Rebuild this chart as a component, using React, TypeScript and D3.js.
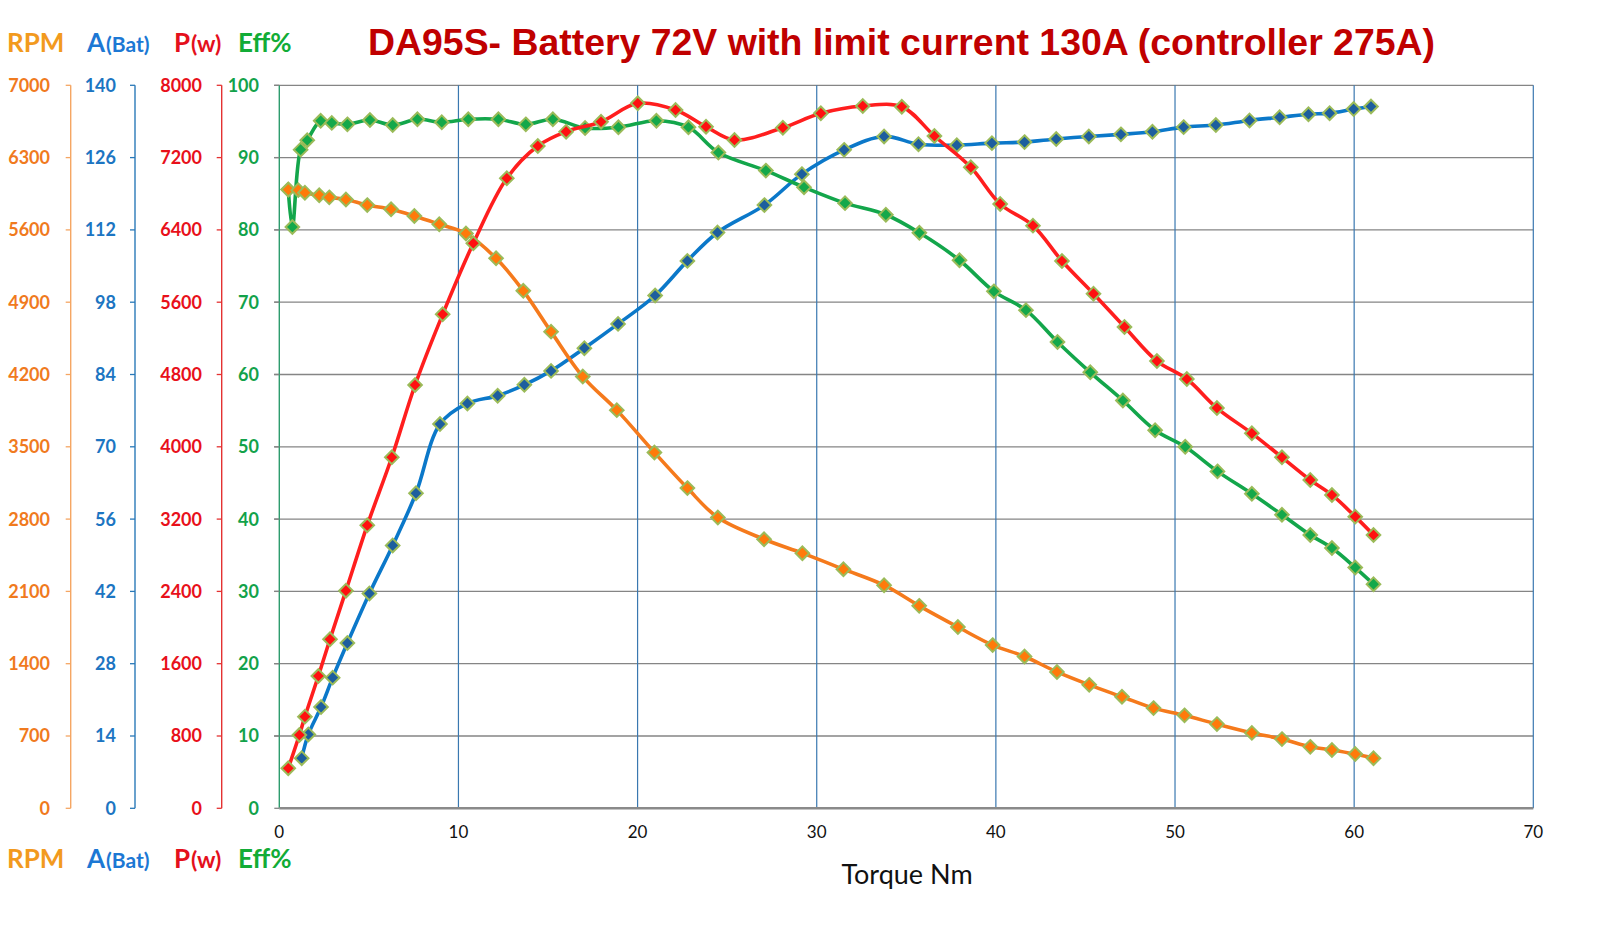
import React from "react";
import * as d3 from "d3";

// Torque (Nm) / RPM
const rpmTorque = [0.5, 1.06, 1.43, 2.23, 2.79, 3.72, 4.91, 6.24, 7.54, 8.93, 10.42, 12.1, 13.62, 15.17, 16.94, 18.84, 20.94, 22.78, 24.48, 27.06, 29.2, 31.49, 33.76, 35.72, 37.88, 39.82, 41.6, 43.41, 45.21, 47.04, 48.8, 50.53, 52.34, 54.29, 55.97, 57.55, 58.76, 60.06, 61.08];
const rpmValues = [5990, 5985, 5960, 5935, 5915, 5895, 5840, 5800, 5735, 5655, 5565, 5325, 5010, 4615, 4180, 3855, 3445, 3100, 2815, 2605, 2470, 2315, 2160, 1960, 1755, 1580, 1470, 1320, 1195, 1080, 970, 900, 815, 730, 670, 595, 565, 525, 485];

// Torque (Nm) / battery current (A)
const ampTorque = [1.25, 1.62, 2.33, 2.98, 3.8, 5.03, 6.33, 7.63, 8.97, 10.5, 12.19, 13.68, 15.17, 17.03, 18.91, 20.98, 22.78, 24.46, 27.08, 29.17, 31.53, 33.76, 35.68, 37.82, 39.78, 41.6, 43.37, 45.19, 46.98, 48.74, 50.48, 52.28, 54.16, 55.84, 57.45, 58.63, 59.97, 60.94];
const ampValues = [9.7, 14.3, 19.6, 25.3, 32.0, 41.6, 50.9, 61.0, 74.4, 78.4, 79.9, 82.0, 84.7, 89.1, 93.8, 99.3, 106.0, 111.5, 116.8, 122.8, 127.5, 130.1, 128.6, 128.4, 128.8, 129.0, 129.6, 130.1, 130.5, 131.0, 131.9, 132.3, 133.2, 133.8, 134.4, 134.6, 135.4, 135.9];

// Torque (Nm) / power (W)
const powTorque = [0.5, 1.12, 1.43, 2.18, 2.83, 3.72, 4.91, 6.28, 7.58, 9.12, 10.83, 12.7, 14.43, 16.01, 17.96, 20.01, 22.12, 23.82, 25.41, 28.11, 30.23, 32.57, 34.75, 36.57, 38.6, 40.24, 42.07, 43.69, 45.45, 47.18, 48.99, 50.66, 52.34, 54.29, 55.97, 57.55, 58.76, 60.06, 61.08];
const powValues = [443, 811, 1014, 1464, 1870, 2408, 3131, 3884, 4684, 5466, 6252, 6971, 7328, 7487, 7597, 7801, 7727, 7542, 7395, 7531, 7690, 7771, 7763, 7439, 7093, 6687, 6447, 6056, 5694, 5326, 4949, 4750, 4429, 4149, 3884, 3633, 3467, 3227, 3024];

// Torque (Nm) / efficiency (%)
const effTorque = [0.5, 0.73, 1.19, 1.56, 2.31, 2.93, 3.8, 5.06, 6.33, 7.71, 9.07, 10.55, 12.23, 13.76, 15.27, 17.07, 18.93, 21.05, 22.84, 24.51, 27.16, 29.29, 31.58, 33.86, 35.73, 37.97, 39.89, 41.68, 43.44, 45.27, 47.09, 48.89, 50.57, 52.37, 54.29, 55.97, 57.55, 58.76, 60.06, 61.08];
const effValues = [85.6, 80.4, 91.1, 92.4, 95.1, 94.8, 94.6, 95.2, 94.5, 95.3, 94.9, 95.3, 95.3, 94.6, 95.3, 94.1, 94.2, 95.1, 94.2, 90.7, 88.2, 85.9, 83.7, 82.1, 79.6, 75.8, 71.5, 68.9, 64.5, 60.3, 56.4, 52.3, 50.0, 46.6, 43.5, 40.6, 37.8, 36.0, 33.3, 31.0];

const xTicks = [0, 10, 20, 30, 40, 50, 60, 70];
const effTicks = [0, 10, 20, 30, 40, 50, 60, 70, 80, 90, 100];
const ampTicks = [0, 14, 28, 42, 56, 70, 84, 98, 112, 126, 140];
const powTicks = [0, 800, 1600, 2400, 3200, 4000, 4800, 5600, 6400, 7200, 8000];
const rpmTicks = [0, 700, 1400, 2100, 2800, 3500, 4200, 4900, 5600, 6300, 7000];

const TITLE = "DA95S- Battery 72V with limit current 130A (controller 275A)";

const plot = { left: 279.3, right: 1533.3, top: 85.3, bottom: 808.3 };
const labelFont = "Lato, 'Open Sans', sans-serif";

const diamond = (r: number) => `M0,${-r}L${r},0L0,${r}L${-r},0Z`;

export default function App() {
  const x = d3.scaleLinear().domain([0, 70]).range([plot.left, plot.right]);
  const yEff = d3.scaleLinear().domain([0, 100]).range([plot.bottom, plot.top]);
  const yAmp = d3.scaleLinear().domain([0, 140]).range([plot.bottom, plot.top]);
  const yPow = d3.scaleLinear().domain([0, 8000]).range([plot.bottom, plot.top]);
  const yRpm = d3.scaleLinear().domain([0, 7000]).range([plot.bottom, plot.top]);

  // draw order: blue, green, orange, red (last on top)
  const series = [
    { key: "amp", xs: ampTorque, vs: ampValues, y: yAmp, line: "#0B78C9", fill: "#1D5E9E" },
    { key: "eff", xs: effTorque, vs: effValues, y: yEff, line: "#13A64B", fill: "#14A84A" },
    { key: "rpm", xs: rpmTorque, vs: rpmValues, y: yRpm, line: "#F57A1C", fill: "#FF7A0A" },
    { key: "pow", xs: powTorque, vs: powValues, y: yPow, line: "#FF1E1E", fill: "#FF1010" },
  ];

  const axes = [
    { key: "rpm", ticks: rpmTicks, y: yRpm, axisX: 70.7, labelX: 50, axis: "#F5A663", text: "#F07A1E" },
    { key: "amp", ticks: ampTicks, y: yAmp, axisX: 135, labelX: 116, axis: "#2A79B8", text: "#1C75C2" },
    { key: "pow", ticks: powTicks, y: yPow, axisX: 221.7, labelX: 202, axis: "#E43232", text: "#E8101A" },
    { key: "eff", ticks: effTicks, y: yEff, axisX: plot.left, labelX: 259, axis: "#2E9C6E", text: "#12A24A" },
  ];

  const legend = (baseline: number) => (
    <g fontFamily={labelFont} fontWeight={700}>
      <text x={7} y={baseline} fontSize={26} fill="#F29A1E">RPM</text>
      <text x={87} y={baseline} fontSize={26} fill="#1C78D4">
        A<tspan fontSize={21} dx={1}>(Bat)</tspan>
      </text>
      <text x={174} y={baseline} fontSize={26} fill="#E4101C">
        P<tspan fontSize={23} dx={1}>(w)</tspan>
      </text>
      <text x={238} y={baseline} fontSize={26} fill="#12AC36">Eff%</text>
    </g>
  );

  return (
    <div style={{ position: "absolute", left: 0, top: 0 }}>
      <svg width={1601} height={930} style={{ display: "block", background: "#fff" }}>
        <rect width={1601} height={930} fill="#fff" />

        {/* title */}
        <text x={368} y={55} fontFamily="'Liberation Sans', Arial, sans-serif" fontWeight={700}
          fontSize={37} fill="#C00000" textLength={1067} lengthAdjust="spacingAndGlyphs">
          {TITLE}
        </text>

        {legend(52)}
        {legend(868)}

        {/* horizontal gridlines */}
        {effTicks.filter((t) => t > 0).map((t) => (
          <line key={"h" + t} x1={274} x2={plot.right} y1={yEff(t)} y2={yEff(t)} stroke="#858585" strokeWidth={1.3} />
        ))}
        {/* vertical gridlines */}
        {xTicks.filter((t) => t > 0).map((t) => (
          <line key={"v" + t} x1={x(t)} x2={x(t)} y1={plot.top} y2={plot.bottom} stroke="#3A78B0" strokeWidth={1.2} />
        ))}

        {/* y axes */}
        {axes.map((a) => (
          <g key={a.key}>
            <line x1={a.axisX} x2={a.axisX} y1={plot.top} y2={plot.bottom} stroke={a.axis} strokeWidth={1.4} />
            {a.ticks.map((t) => (
              <g key={t}>
                <line x1={a.axisX - 5} x2={a.axisX} y1={a.y(t)} y2={a.y(t)} stroke={a.key === "eff" ? "#858585" : a.axis} strokeWidth={1.3} />
                <text x={a.labelX} y={a.y(t)} dy="0.36em" textAnchor="end" fontFamily={labelFont}
                  fontWeight={700} fontSize={18} fill={a.text}>
                  {t}
                </text>
              </g>
            ))}
          </g>
        ))}

        {/* x axis */}
        <line x1={plot.left} x2={plot.right} y1={plot.bottom} y2={plot.bottom} stroke="#8A8A8A" strokeWidth={2.4} />
        {xTicks.map((t) => (
          <text key={"xt" + t} x={x(t)} y={838} textAnchor="middle" fontFamily={labelFont} fontSize={17} fill="#111">
            {t}
          </text>
        ))}
        <text x={907} y={884} textAnchor="middle" fontFamily={labelFont} fontSize={27} fill="#111">
          Torque Nm
        </text>

        {/* series */}
        {series.map((s) => {
          const path = d3
            .line<number>()
            .x((_, i) => x(s.xs[i]))
            .y((d) => s.y(d))
            .curve(d3.curveCatmullRom.alpha(0.5))(s.vs);
          return (
            <g key={s.key}>
              <path d={path ?? ""} fill="none" stroke={s.line} strokeWidth={3.6} strokeLinejoin="round" />
              {s.vs.map((v, i) => (
                <path key={i} d={diamond(6.8)} transform={`translate(${x(s.xs[i])},${s.y(v)})`}
                  fill={s.fill} stroke="#9BBB59" strokeWidth={2} />
              ))}
            </g>
          );
        })}
      </svg>
    </div>
  );
}
